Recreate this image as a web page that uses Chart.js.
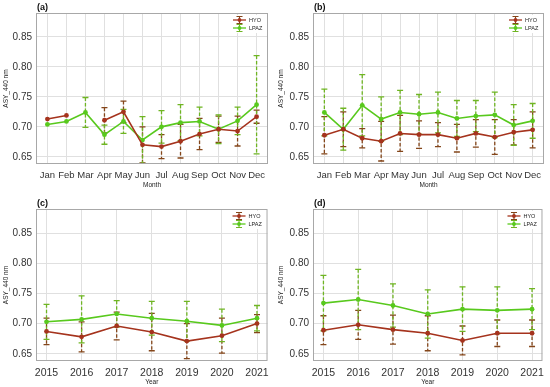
<!DOCTYPE html>
<html>
<head>
<meta charset="utf-8">
<script src="https://cdn.jsdelivr.net/npm/chart.js@4.4.1/dist/chart.umd.min.js"></script>
<style>
  html, body { margin: 0; padding: 0; background: #fff; }
  #wrap { position: relative; width: 550px; height: 387px; overflow: hidden; }
  canvas { position: absolute; }
</style>
</head>
<body>
<div id="wrap">
  <canvas id="pa" width="275" height="193" style="left:0;top:0"></canvas>
  <canvas id="pb" width="275" height="193" style="left:275px;top:0"></canvas>
  <canvas id="pc" width="275" height="193" style="left:0;top:194px"></canvas>
  <canvas id="pd" width="275" height="193" style="left:275px;top:194px"></canvas>
</div>
<script>
'use strict';

const MONTHS = ['Jan','Feb','Mar','Apr','May','Jun','Jul','Aug','Sep','Oct','Nov','Dec'];
const YEARS  = [2015, 2016, 2017, 2018, 2019, 2020, 2021];
const Y_TICKS = [0.65, 0.70, 0.75, 0.80, 0.85];

// (a) monthly
const hyoA    = [0.713, 0.719, null, 0.711, 0.725, 0.670, 0.667, 0.676, 0.688, 0.696, 0.693, 0.717];
const hyoSdA  = [null, null, null, 0.021, 0.018, 0.030, 0.020, 0.028, 0.026, 0.022, 0.025, 0.011];
const lpazA   = [0.704, 0.709, 0.724, 0.687, 0.709, 0.678, 0.700, 0.707, 0.709, 0.696, 0.710, 0.737];
const lpazSdA = [null, null, 0.025, 0.016, 0.020, 0.039, 0.027, 0.030, 0.024, 0.024, 0.023, 0.082];

// (b) monthly
const hyoB    = [0.686, 0.696, 0.681, 0.676, 0.689, 0.687, 0.687, 0.681, 0.689, 0.683, 0.691, 0.695];
const hyoSdB  = [0.031, 0.029, 0.016, 0.033, 0.030, 0.023, 0.020, 0.023, 0.023, 0.029, 0.021, 0.030];
const lpazB   = [0.724, 0.696, 0.736, 0.713, 0.724, 0.721, 0.724, 0.714, 0.718, 0.720, 0.703, 0.710];
const lpazSdB = [0.039, 0.035, 0.051, 0.037, 0.037, 0.033, 0.034, 0.030, 0.026, 0.038, 0.034, 0.029];

// (c) yearly
const hyoC    = [0.687, 0.678, 0.696, 0.686, 0.671, 0.680, 0.700];
const hyoSdC  = [0.022, 0.025, 0.023, 0.031, 0.029, 0.029, 0.015];
const lpazC   = [0.703, 0.707, 0.716, 0.709, 0.704, 0.697, 0.709];
const lpazSdC = [0.029, 0.039, 0.022, 0.028, 0.033, 0.027, 0.021];

// (d) yearly
const hyoD    = [0.689, 0.698, 0.690, 0.684, 0.672, 0.684, 0.684];
const hyoSdD  = [0.024, 0.024, 0.024, 0.029, 0.024, 0.022, 0.022];
const lpazD   = [0.734, 0.740, 0.730, 0.716, 0.724, 0.722, 0.724];
const lpazSdD = [0.046, 0.050, 0.036, 0.040, 0.037, 0.039, 0.034];

const COL = {
  hyo: '#a5331d', hyoErr: '#84461a',
  lpaz: '#58c91d', lpazErr: '#6fb523',
  grid: '#e0e0e0', frame: '#a8a8a8', text: '#333', title: '#222',
};
const FONT = 'Arial, "Liberation Sans", Helvetica, sans-serif';

// dashed error bars with solid caps, drawn from each dataset's sd array
const errorBars = {
  id: 'errorBars',
  beforeDatasetsDraw(chart) {
    const { ctx, chartArea: a, scales: { x, y } } = chart;
    ctx.save();
    ctx.beginPath();
    ctx.rect(a.left, a.top, a.right - a.left, a.bottom - a.top);
    ctx.clip();
    chart.data.datasets.forEach(ds => {
      ctx.strokeStyle = ds.errColor;
      ctx.lineWidth = 1.3;
      ds.data.forEach((p, i) => {
        const sd = ds.sd[i];
        if (p.y == null || sd == null) return;
        const px = x.getPixelForValue(p.x);
        const top = y.getPixelForValue(p.y + sd);
        const bot = y.getPixelForValue(p.y - sd);
        ctx.setLineDash([3.5, 2]);
        ctx.beginPath(); ctx.moveTo(px, top); ctx.lineTo(px, bot); ctx.stroke();
        ctx.setLineDash([]);
        ctx.beginPath();
        ctx.moveTo(px - 3, top); ctx.lineTo(px + 3, top);
        ctx.moveTo(px - 3, bot); ctx.lineTo(px + 3, bot);
        ctx.stroke();
      });
    });
    ctx.restore();
  },
};

// panel frame, tag "(a)" and the inside legend
const decor = {
  id: 'decor',
  afterDraw(chart, args, opts) {
    const { ctx, chartArea: a } = chart;
    ctx.save();
    ctx.strokeStyle = COL.frame;
    ctx.lineWidth = 1;
    ctx.strokeRect(a.left + 0.5, a.top + 0.5, a.right - a.left - 1, a.bottom - a.top - 1);

    ctx.fillStyle = '#111';
    ctx.font = 'bold 9px ' + FONT;
    ctx.textBaseline = 'alphabetic';
    ctx.fillText(opts.tag, a.left + 1, a.top - 3);

    // legend
    const lx = a.right - 35, ly = a.top + 7;
    ctx.fillStyle = '#fff';
    ctx.fillRect(lx - 2, ly - 5, 33, 18);
    chart.data.datasets.forEach((ds, i) => {
      const cy = ly + i * 8;
      const cx = lx + 6.5;
      ctx.strokeStyle = ds.borderColor;
      ctx.lineWidth = 1.3;
      ctx.beginPath(); ctx.moveTo(lx, cy); ctx.lineTo(lx + 13, cy); ctx.stroke();
      ctx.strokeStyle = ds.errColor;
      ctx.lineWidth = 1.1;
      ctx.beginPath();
      ctx.moveTo(cx, cy - 3.5); ctx.lineTo(cx, cy + 3.5);
      ctx.moveTo(cx - 3, cy - 3.5); ctx.lineTo(cx + 3, cy - 3.5);
      ctx.moveTo(cx - 3, cy + 3.5); ctx.lineTo(cx + 3, cy + 3.5);
      ctx.stroke();
      ctx.fillStyle = ds.borderColor;
      ctx.beginPath(); ctx.arc(cx, cy, 1.9, 0, Math.PI * 2); ctx.fill();
      ctx.fillStyle = COL.title;
      ctx.font = '5.5px ' + FONT;
      ctx.textBaseline = 'middle';
      ctx.fillText(ds.label, lx + 16, cy + 0.5);
    });
    ctx.restore();
  },
};

function series(xs, vals) {
  return xs.map((x, i) => ({ x, y: vals[i] }));
}

function panel(id, tag, box, xs, xLabel, xPad, labelFn, hyo, hyoSd, lpaz, lpazSd) {
  const H = 193;
  return new Chart(document.getElementById(id), {
    type: 'line',
    data: {
      datasets: [
        { label: 'HYO', data: series(xs, hyo), sd: hyoSd, errColor: COL.hyoErr,
          borderColor: COL.hyo, backgroundColor: COL.hyo, borderWidth: 1.6,
          pointRadius: 2.4, pointBorderWidth: 0, tension: 0, spanGaps: false },
        { label: 'LPAZ', data: series(xs, lpaz), sd: lpazSd, errColor: COL.lpazErr,
          borderColor: COL.lpaz, backgroundColor: COL.lpaz, borderWidth: 1.6,
          pointRadius: 2.4, pointBorderWidth: 0, tension: 0, spanGaps: false },
      ],
    },
    options: {
      responsive: false,
      animation: false,
      layout: { padding: { top: box.top, right: 275 - box.right, left: 0, bottom: 0 } },
      plugins: {
        legend: { display: false },
        tooltip: { enabled: false },
        decor: { tag },
      },
      scales: {
        x: {
          type: 'linear',
          min: xs[0] - xPad,
          max: xs[xs.length - 1] + xPad,
          afterFit: s => { s.height = H - box.bottom; },
          grid: { color: COL.grid, drawTicks: false },
          border: { display: false },
          ticks: {
            stepSize: 1, autoSkip: false, includeBounds: false, maxRotation: 0,
            padding: box.tickPad, color: COL.text, font: { family: FONT, size: box.xFont },
            callback: labelFn,
          },
          title: { display: true, text: xLabel, color: COL.title,
                   font: { family: FONT, size: 6.5 }, padding: { top: 0, bottom: box.titlePad } },
        },
        y: {
          min: 0.638, max: 0.89,
          afterFit: s => { s.width = box.left; },
          afterBuildTicks: s => { s.ticks = Y_TICKS.map(v => ({ value: v })); },
          grid: { color: COL.grid, drawTicks: false },
          border: { display: false },
          ticks: { padding: 4, color: COL.text, font: { family: FONT, size: 10 },
                   callback: v => v.toFixed(2) },
          title: { display: true, text: 'ASY_440 nm', color: COL.title,
                   font: { family: FONT, size: 6.5 }, padding: { top: 2.5, bottom: 0 } },
        },
      },
    },
    plugins: [errorBars, decor],
  });
}

const monthIdx = MONTHS.map((m, i) => i + 1);
const monthLabel = v => MONTHS[v - 1] || '';
const yearLabel = v => String(v);

panel('pa', '(a)', { left: 36, right: 268, top: 13, bottom: 164, tickPad: 5.5, titlePad: 3.5, xFont: 9.5 },
      monthIdx, 'Month', 0.6, monthLabel, hyoA, hyoSdA, lpazA, lpazSdA);
panel('pb', '(b)', { left: 38, right: 269, top: 13, bottom: 164, tickPad: 5.5, titlePad: 3.5, xFont: 9.5 },
      monthIdx, 'Month', 0.6, monthLabel, hyoB, hyoSdB, lpazB, lpazSdB);
panel('pc', '(c)', { left: 36, right: 268, top: 15, bottom: 167, tickPad: 6, titlePad: 1, xFont: 10.5 },
      YEARS, 'Year', 0.3, yearLabel, hyoC, hyoSdC, lpazC, lpazSdC);
panel('pd', '(d)', { left: 38, right: 269, top: 15, bottom: 167, tickPad: 6, titlePad: 1, xFont: 10.5 },
      YEARS, 'Year', 0.3, yearLabel, hyoD, hyoSdD, lpazD, lpazSdD);
</script>
</body>
</html>
